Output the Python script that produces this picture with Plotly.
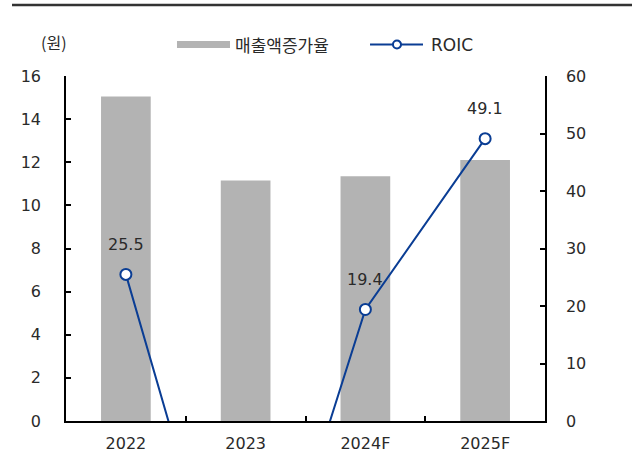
import plotly.graph_objects as go

categories = ["2022", "2023", "2024F", "2025F"]
sales_growth = [15.05, 11.15, 11.35, 12.1]
roic = [25.5, -46.3, 19.4, 49.1]
left_ticks = [0, 2, 4, 6, 8, 10, 12, 14, 16]
right_ticks = [0, 10, 20, 30, 40, 50, 60]

BAR_COLOR = "#b3b3b3"
LINE_COLOR = "#0a3d94"
TEXT_COLOR = "#2a2a2a"
NUM_FONT = "DejaVu Sans, sans-serif"
KR_FONT = "Noto Sans CJK KR, sans-serif"

fig = go.Figure()
fig.add_trace(go.Bar(
    x=categories, y=sales_growth, name="매출액증가율",
    marker=dict(color=BAR_COLOR, line=dict(width=0)),
    width=0.415, yaxis="y", showlegend=False,
))
fig.add_trace(go.Scatter(
    x=categories, y=roic, name="ROIC", yaxis="y2", mode="lines+markers",
    line=dict(color=LINE_COLOR, width=2),
    marker=dict(symbol="circle", size=11, color="white",
                line=dict(color=LINE_COLOR, width=2)),
    showlegend=False,
))

annotations = []
for i, v in enumerate(roic):
    if v >= 0:
        annotations.append(dict(
            x=i, y=v, xref="x", yref="y2", text=f"{v:.1f}", showarrow=False,
            yshift=30, font=dict(family=NUM_FONT, size=16, color=TEXT_COLOR),
        ))

annotations.append(dict(x=-0.025, y=1.0986, xref="paper", yref="paper", text="(원)",
                        showarrow=False, xanchor="center", yanchor="middle",
                        font=dict(family=KR_FONT, size=16, color=TEXT_COLOR)))
annotations.append(dict(x=0.3486, y=1.0913, xref="paper", yref="paper", text="매출액증가율",
                        showarrow=False, xanchor="left", yanchor="middle",
                        font=dict(family=KR_FONT, size=17, color=TEXT_COLOR)))
annotations.append(dict(x=0.7578, y=1.0913, xref="paper", yref="paper", text="ROIC",
                        showarrow=False, xanchor="left", yanchor="middle",
                        font=dict(family=NUM_FONT, size=17, color=TEXT_COLOR)))

shapes = [
    dict(type="line", xref="paper", yref="paper", x0=-0.1127, x1=1.2, y0=1.2058, y1=1.2058,
         line=dict(color="#333333", width=2.5)),
    dict(type="rect", xref="paper", yref="paper", x0=0.2317, x1=0.3424, y0=1.0812, y1=1.1014,
         fillcolor=BAR_COLOR, line=dict(width=0)),
    dict(type="line", xref="paper", yref="paper", x0=0.6347, x1=0.7453, y0=1.0913, y1=1.0913,
         line=dict(color=LINE_COLOR, width=2)),
    dict(type="circle", xref="paper", yref="paper", x0=0.6826, x1=0.6994, y0=1.0797, y1=1.1029,
         fillcolor="white", line=dict(color=LINE_COLOR, width=2)),
]

fig.update_layout(
    width=632, height=457,
    margin=dict(l=66, r=87, t=76, b=36),
    paper_bgcolor="white", plot_bgcolor="white",
    showlegend=False,
    annotations=annotations, shapes=shapes,
    xaxis=dict(
        type="category", range=[-0.5, 3.5], automargin=False,
        showline=True, linecolor="black", linewidth=1.5,
        ticks="inside", tickson="boundaries", ticklen=5, tickcolor="black", tickwidth=1.5,
        showgrid=False, zeroline=False,
        tickfont=dict(family=NUM_FONT, size=16, color=TEXT_COLOR),
        ticklabelstandoff=7,
    ),
    yaxis=dict(
        range=[0, 16], tickvals=left_ticks, automargin=False,
        showline=True, linecolor="black", linewidth=1.5,
        ticks="inside", ticklen=5, tickcolor="black", tickwidth=1.5,
        showgrid=False, zeroline=False,
        tickfont=dict(family=NUM_FONT, size=16, color=TEXT_COLOR),
        ticklabelstandoff=20,
    ),
    yaxis2=dict(
        range=[0, 60], tickvals=right_ticks, overlaying="y", side="right", automargin=False,
        showline=True, linecolor="black", linewidth=1.5,
        ticks="inside", ticklen=5, tickcolor="black", tickwidth=1.5,
        showgrid=False, zeroline=False,
        tickfont=dict(family=NUM_FONT, size=16, color=TEXT_COLOR),
        ticklabelstandoff=16,
    ),
)

fig.write_html("out.html", config={"displayModeBar": False},
               post_script="document.body.style.margin='0px';")
